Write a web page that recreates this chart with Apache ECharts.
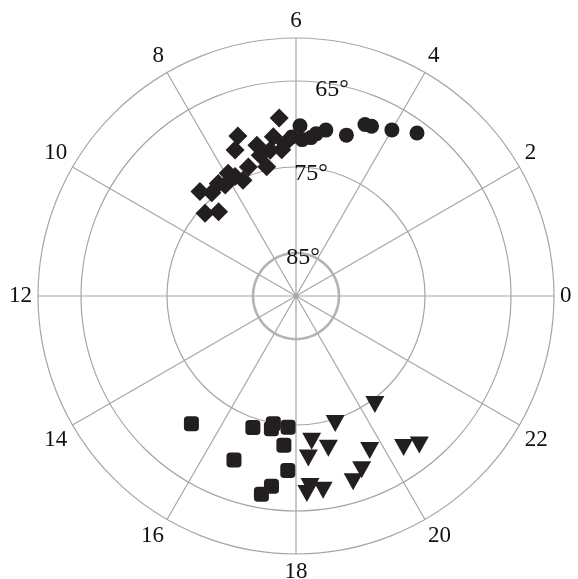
<!DOCTYPE html>
<html>
<head>
<meta charset="utf-8">
<script src="https://cdn.jsdelivr.net/npm/echarts@6/dist/echarts.min.js"></script>
<style>
  html, body { margin: 0; padding: 0; background: #fff; }
  #chart { width: 578px; height: 579px; }
</style>
</head>
<body>
<div id="chart"></div>
<script>
// Polar scatter: angle = local hour (0-24, counter-clockwise from the right),
// radius = zenith angle (90° at the centre, 60° at the rim).
// Each point is [zenith angle (deg), hour].

const diamondSeries = [
  [69.2, 6.36], [70.2, 7.33], [71.6, 7.51], [71.9, 6.97], [71.3, 6.54],
  [72.9, 6.37], [73.1, 6.95], [74.0, 7.35], [73.7, 7.93], [74.1, 8.31],
  [73.5, 8.84], [75.7, 9.18], [76.7, 8.84], [74.4, 7.80], [74.6, 6.85],
  [72.2, 6.27], [75.2, 7.64], [74.7, 8.17], [72.8, 6.67], [74.5, 8.61]
];

const circleSeries = [
  [70.2, 5.91], [71.0, 5.53], [70.4, 5.32], [70.4, 4.84], [68.5, 4.54],
  [68.4, 4.40], [67.7, 4.00], [66.4, 3.56], [71.8, 5.85], [71.5, 5.64],
  [71.5, 6.10]
];

const squareSeries = [
  [70.8, 15.38], [73.9, 16.79], [74.9, 17.33], [74.3, 17.30], [74.7, 17.77],
  [72.6, 17.69], [69.6, 16.62], [69.7, 17.82], [67.7, 17.51], [66.6, 17.34]
];

const triangleSeries = [
  [74.4, 20.40], [74.5, 19.14], [73.0, 18.41], [71.9, 18.80], [71.1, 18.29],
  [70.1, 19.70], [68.4, 20.36], [67.5, 20.64], [68.4, 19.38], [67.4, 19.14],
  [67.8, 18.28], [67.0, 18.21], [67.2, 18.53]
];

// Zenith rings and their labels
const ringValues = [65, 75];
const innerRing = 85;
const ringLabels = [85, 75, 65];
const labelHour = 6;

// Hour range of the angle axis
const hourMin = 0;
const hourMax = 24;
const hourStep = 2;

// Zenith range of the radius axis
const zenithRim = 60;
const zenithCentre = 90;

const INK = '#231f20';
const TEXT = '#111111';
const GRID = '#a6a6a6';
const FONT = 'Liberation Serif';

// Closed ring at a constant zenith angle (drawn as a dense polyline)
function ring(z) {
  const pts = [];
  for (let h = 0; h <= 24.0001; h += 0.2) pts.push([z, h]);
  return pts;
}

const labelOffsets = {85: [7, 5], 75: [15, 7], 65: [36, 9]};

const markerBase = {
  type: 'scatter',
  coordinateSystem: 'polar',
  itemStyle: { color: INK, opacity: 1 },
  emphasis: { disabled: true },
  z: 5
};

const option = {
  animation: false,
  backgroundColor: '#fff',
  polar: { center: [296, 296], radius: 258 },
  angleAxis: {
    type: 'value',
    min: hourMin,
    max: hourMax,
    interval: hourStep,
    startAngle: 0,
    clockwise: false,
    axisLine: { show: true, lineStyle: { color: GRID, width: 1.2 } },
    axisTick: { show: false },
    axisLabel: {
      show: true,
      margin: 6,
      color: TEXT,
      fontFamily: FONT,
      fontSize: 23,
      formatter: v => (v === hourMax ? '' : String(v))
    },
    splitLine: { show: true, lineStyle: { color: GRID, width: 1.2 } }
  },
  radiusAxis: {
    type: 'value',
    min: zenithRim,
    max: zenithCentre,
    inverse: true,
    axisLine: { show: false },
    axisTick: { show: false, customValues: ringValues },
    axisLabel: { show: false, customValues: ringValues },
    splitLine: { show: true, lineStyle: { color: GRID, width: 1.2 } }
  },
  series: [
    {
      type: 'line',
      coordinateSystem: 'polar',
      data: ring(innerRing),
      showSymbol: false,
      silent: true,
      lineStyle: { color: '#b3b3b3', width: 2.6 },
      z: 1
    },
    Object.assign({}, markerBase, {
      name: 'diamond',
      data: diamondSeries,
      symbol: 'diamond',
      symbolSize: 19
    }),
    Object.assign({}, markerBase, {
      name: 'circle',
      data: circleSeries,
      symbol: 'circle',
      symbolSize: 15
    }),
    Object.assign({}, markerBase, {
      name: 'square',
      data: squareSeries,
      symbol: 'roundRect',
      symbolSize: 15
    }),
    Object.assign({}, markerBase, {
      name: 'triangle',
      data: triangleSeries,
      symbol: 'triangle',
      symbolRotate: 180,
      symbolSize: [19, 17]
    }),
    {
      type: 'scatter',
      coordinateSystem: 'polar',
      silent: true,
      symbolSize: 0,
      itemStyle: { opacity: 1 },
      z: 4,
      data: ringLabels.map(z => ({
        value: [z, labelHour],
        label: {
          show: true,
          position: 'inside',
          offset: labelOffsets[z],
          formatter: z + '°',
          color: TEXT,
          opacity: 1,
          fontFamily: FONT,
          fontSize: 24
        }
      }))
    }
  ]
};

const chart = echarts.init(document.getElementById('chart'), null, { renderer: 'canvas' });
chart.setOption(option);
</script>
</body>
</html>
